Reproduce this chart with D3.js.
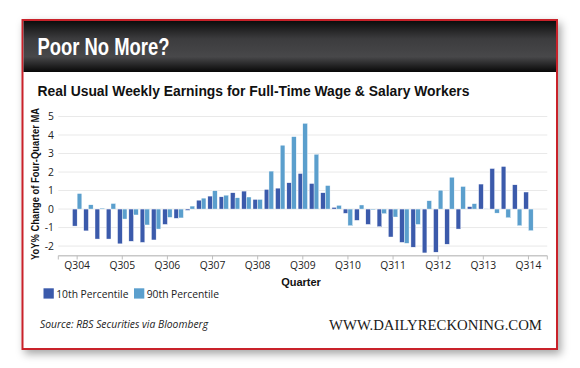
<!DOCTYPE html>
<html>
<head>
<meta charset="utf-8">
<script src="https://cdn.jsdelivr.net/npm/d3@7"></script>
<style>
  html, body { margin: 0; padding: 0; background: #ffffff; }
  svg { display: block; }
</style>
</head>
<body>
<script>
// ---------- data ----------
const quarters = ["Q304","Q404","Q105","Q205","Q305","Q405","Q106","Q206","Q306","Q406",
  "Q107","Q207","Q307","Q407","Q108","Q208","Q308","Q408","Q109","Q209","Q309","Q409",
  "Q110","Q210","Q310","Q410","Q111","Q211","Q311","Q411","Q112","Q212","Q312","Q412",
  "Q113","Q213","Q313","Q413","Q114","Q214","Q314"];
const p10 = [-0.92,-1.18,-1.62,-1.62,-1.88,-1.74,-1.80,-1.67,-0.83,-0.50,
  -0.07,0.48,0.70,0.66,0.88,0.97,0.52,1.06,1.13,1.42,1.92,1.38,
  0.88,0.09,-0.23,-0.61,-0.83,-0.95,-1.51,-1.80,-2.06,-2.37,-2.33,-1.90,
  -1.08,0.13,1.35,2.19,2.30,1.31,0.92];
const p90 = [0.84,0.23,0.05,0.30,-0.54,-0.32,-0.86,-1.08,-0.45,-0.48,
  0.16,0.59,0.99,0.75,0.61,0.65,0.52,2.05,3.45,3.91,4.63,2.96,
  1.27,0.20,-0.90,0.22,-0.04,-0.25,-0.43,-1.85,-0.83,0.45,1.02,1.72,
  1.22,0.29,0.02,-0.22,-0.47,-0.90,-1.17];
const tickLabels = ["Q304","Q305","Q306","Q307","Q308","Q309","Q310","Q311","Q312","Q313","Q314"];
const yTicks = [-2,-1,0,1,2,3,4,5];
const seriesNames = ["10th Percentile","90th Percentile"];
const seriesColors = ["#3b5aab","#5b9fcd"];

// ---------- svg ----------
const W = 580, H = 368;
const svg = d3.select("body").append("svg").attr("width", W).attr("height", H);
const defs = svg.append("defs");

const shadow = defs.append("filter").attr("id","shadow")
  .attr("x","-10%").attr("y","-10%").attr("width","120%").attr("height","125%");
shadow.append("feDropShadow").attr("dx",3).attr("dy",4).attr("stdDeviation",4)
  .attr("flood-color","#000").attr("flood-opacity",0.35);

const grad = defs.append("linearGradient").attr("id","hdr")
  .attr("x1",0).attr("y1",0).attr("x2",0).attr("y2",1);
grad.append("stop").attr("offset","0%").attr("stop-color","#0d0d0d");
grad.append("stop").attr("offset","35%").attr("stop-color","#3c3c3e");
grad.append("stop").attr("offset","70%").attr("stop-color","#48484a");
grad.append("stop").attr("offset","100%").attr("stop-color","#080808");

svg.append("rect").attr("width",W).attr("height",H).attr("fill","#fff");

// frame
svg.append("rect").attr("x",22.5).attr("y",20).attr("width",534.5).attr("height",329)
  .attr("fill","#fff").attr("stroke","#c9232c").attr("stroke-width",2)
  .attr("filter","url(#shadow)");
svg.append("rect").attr("x",23.5).attr("y",21).attr("width",532.5).attr("height",51)
  .attr("fill","url(#hdr)");

const condensed = "'Liberation Sans Narrow','Arial Narrow',sans-serif";
const body = "'Open Sans',sans-serif";

svg.append("text").attr("x",37.5).attr("y",55).attr("fill","#fff")
  .attr("font-family",condensed).attr("font-weight","bold").attr("font-size",23)
  .attr("textLength",132).attr("lengthAdjust","spacingAndGlyphs")
  .text("Poor No More?");

svg.append("text").attr("x",37.5).attr("y",95.7).attr("fill","#111")
  .attr("font-family",condensed).attr("font-weight","bold").attr("font-size",14.5)
  .attr("textLength",432).attr("lengthAdjust","spacingAndGlyphs")
  .text("Real Usual Weekly Earnings for Full-Time Wage & Salary Workers");

// ---------- scales ----------
const x = d3.scaleBand().domain(quarters).range([58.3, 547.3]).paddingInner(0).paddingOuter(1.17);
const xs = d3.scaleBand().domain([0,1]).range([0, x.bandwidth()]).paddingInner(0).paddingOuter(0.2);
const y = d3.scaleLinear().domain([-2.52, 5]).range([255.7, 116.5]);

// gridlines
svg.append("g").selectAll("line").data(yTicks).join("line")
  .attr("x1",58.3).attr("x2",547.3)
  .attr("y1",d=>y(d)).attr("y2",d=>y(d))
  .attr("stroke","#e9e9e9").attr("stroke-width",1);

// y labels
svg.append("g").selectAll("text").data(yTicks).join("text")
  .attr("x",54).attr("y",d=>y(d)+3.7).attr("text-anchor","end")
  .attr("font-family",body).attr("font-size",10.3).attr("fill","#222")
  .text(d=>String(d));

// bars
const series = [p10, p90];
series.forEach((vals, si) => {
  svg.append("g").selectAll("rect").data(vals).join("rect")
    .attr("x",(d,i)=>x(quarters[i]) + xs(si))
    .attr("width",xs.bandwidth())
    .attr("y",d=>y(Math.max(0,d)))
    .attr("height",d=>Math.abs(y(d)-y(0)))
    .attr("fill",seriesColors[si])
    .attr("stroke","#fff").attr("stroke-width",0.4);
});

// x axis
const xAxisG = svg.append("g");
xAxisG.append("line").attr("x1",58.3).attr("x2",547.3).attr("y1",255.7).attr("y2",255.7)
  .attr("stroke","#c8c8c8").attr("stroke-width",1.5);
const tickPos = [58.3, ...tickLabels.map(q => x(q) + x.bandwidth()/2), 547.3];
xAxisG.selectAll("line.tick").data(tickPos).join("line").attr("class","tick")
  .attr("x1",d=>d).attr("x2",d=>d).attr("y1",255.7).attr("y2",259.5)
  .attr("stroke","#bdbdbd").attr("stroke-width",1);
xAxisG.selectAll("text").data(tickLabels).join("text")
  .attr("x",q=>x(q)+x.bandwidth()/2).attr("y",269.3).attr("text-anchor","middle")
  .attr("font-family",body).attr("font-size",10.3).attr("fill","#222")
  .text(q=>q);

svg.append("text").attr("x",301).attr("y",285.5).attr("text-anchor","middle")
  .attr("font-family",condensed).attr("font-weight","bold").attr("font-size",11)
  .attr("fill","#111").text("Quarter");

svg.append("text").attr("transform","translate(38.6,184) rotate(-90)")
  .attr("text-anchor","middle")
  .attr("font-family",condensed).attr("font-weight","bold").attr("font-size",10)
  .attr("textLength",152).attr("lengthAdjust","spacingAndGlyphs")
  .attr("fill","#111").text("YoY% Change of Four-Quarter MA");

// legend
const legX = [43.5, 134];
const leg = svg.append("g").selectAll("g").data(seriesNames).join("g")
  .attr("transform",(d,i)=>`translate(${legX[i]},288.3)`);
leg.append("rect").attr("width",10.3).attr("height",10.3).attr("fill",(d,i)=>seriesColors[i]);
leg.append("text").attr("x",12.7).attr("y",9.2)
  .attr("font-family",body).attr("font-size",10.3).attr("fill","#222").text(d=>d);

// footer
svg.append("text").attr("x",40).attr("y",328.3)
  .attr("font-family",body).attr("font-style","italic").attr("font-size",10.5)
  .attr("textLength",168).attr("lengthAdjust","spacingAndGlyphs")
  .attr("fill","#222").text("Source: RBS Securities via Bloomberg");

svg.append("text").attr("x",329).attr("y",330)
  .attr("font-family","'Liberation Serif','Times New Roman',serif").attr("font-size",14.5)
  .attr("textLength",213).attr("lengthAdjust","spacingAndGlyphs")
  .attr("fill","#1a1a1a").text("WWW.DAILYRECKONING.COM");
</script>
</body>
</html>
